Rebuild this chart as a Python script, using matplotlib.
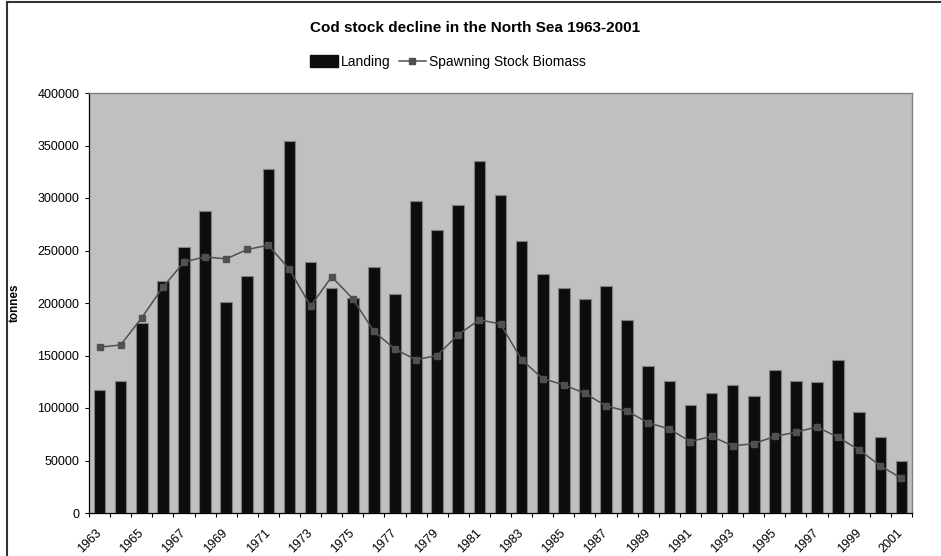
import numpy as np
import matplotlib.pyplot as plt
from matplotlib.lines import Line2D

plt.rcParams['font.family'] = ['Liberation Sans', 'DejaVu Sans']

# Annual values in tonnes
years = list(range(1963, 2002))
landing = [117000, 126000, 181000, 221000, 253000, 288000, 201000, 226000,
           328000, 354000, 239000, 214000, 205000, 234000, 209000, 297000,
           270000, 293000, 335000, 303000, 259000, 228000, 214000, 204000,
           216000, 184000, 140000, 126000, 103000, 114000, 122000, 111000,
           136000, 126000, 125000, 146000, 96000, 72000, 50000]
ssb = [158000, 160000, 186000, 215000, 239000, 244000, 242000, 251000,
       255000, 232000, 197000, 225000, 204000, 173000, 156000, 146000,
       150000, 170000, 184000, 180000, 146000, 128000, 122000, 114000,
       102000, 97000, 86000, 80000, 68000, 73000, 64000, 66000,
       73000, 77000, 82000, 72000, 60000, 45000, 33000]

W, H = 941, 556
fig = plt.figure(figsize=(W / 100, H / 100), dpi=100)

# chart area frame
fig.add_artist(Line2D([7 / W, 7 / W], [0, 1 - 2 / H], color='#333333', lw=1.5))
fig.add_artist(Line2D([7 / W, 1], [1 - 2 / H, 1 - 2 / H], color='#333333', lw=1.5))

left, right, top, bottom = 89, 912, 93, 513
ax = fig.add_axes([left / W, 1 - bottom / H, (right - left) / W, (bottom - top) / H])
ax.set_facecolor('#c0c0c0')

x = np.arange(len(years))
ax.bar(x, landing, width=0.55, color='#0d0d0d', edgecolor='#7f7f7f',
       linewidth=0.8, zorder=2)
ax.plot(x, ssb, color='#505050', lw=1.1, marker='s', markersize=3.8,
        markerfacecolor='#505050', markeredgecolor='#505050', zorder=3)

ax.set_xlim(-0.5, len(years) - 0.5)
ax.set_ylim(0, 400000)
ax.set_yticks(np.arange(0, 400001, 50000))
ax.tick_params(axis='y', direction='out', length=3, width=0.8,
               labelsize=9, pad=4)

# tick marks between categories, labels on every other year
ax.set_xticks(np.arange(-0.5, len(years), 1))
ax.set_xticklabels([])
ax.set_xticks(x[::2], minor=True)
ax.set_xticklabels([str(y) for y in years[::2]], minor=True,
                   rotation=45, ha='right', va='center',
                   rotation_mode='anchor', fontsize=9)
ax.tick_params(axis='x', which='major', direction='out', length=3, width=0.8)
ax.tick_params(axis='x', which='minor', length=0, pad=13)

for s in ['top', 'right']:
    ax.spines[s].set_color('#808080')
    ax.spines[s].set_linewidth(1.0)
for s in ['left', 'bottom']:
    ax.spines[s].set_color('black')
    ax.spines[s].set_linewidth(0.9)

fig.text(475 / W, 1 - 28 / H, 'Cod stock decline in the North Sea 1963-2001',
         ha='center', va='center', fontsize=11, fontweight='bold')
fig.text(15 / W, 1 - 303 / H, 'tonnes', rotation=90, ha='center',
         va='center', fontsize=8.5, fontweight='bold')

handles = [
    plt.Rectangle((0, 0), 1, 1, facecolor='#0d0d0d', edgecolor='#0d0d0d'),
    Line2D([], [], color='#505050', lw=1.1, marker='s', markersize=3.8),
]
fig.legend(handles, ['Landing', 'Spawning Stock Biomass'],
           loc='center', bbox_to_anchor=(448 / W, 1 - 62 / H), ncol=2,
           frameon=False, fontsize=10, handlelength=2.0, handleheight=0.9,
           handletextpad=0.2, columnspacing=0.6, borderpad=0)

fig.savefig('out.png', dpi=100)
